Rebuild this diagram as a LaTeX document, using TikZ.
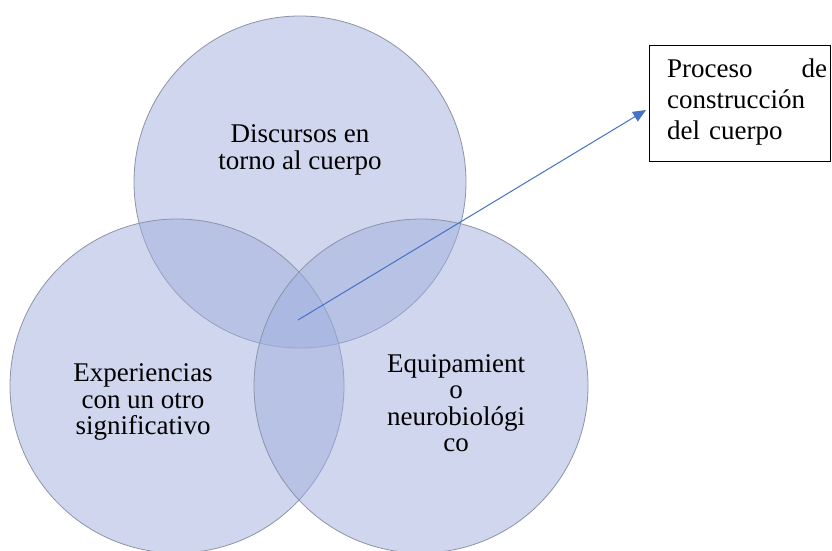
\documentclass[tikz,border=0pt]{standalone}
\usepackage{fontspec}
\setmainfont{Liberation Serif}
\usetikzlibrary{arrows.meta}
\definecolor{circfill}{RGB}{160,175,222}
\definecolor{circline}{RGB}{140,148,168}
\definecolor{arrowblue}{RGB}{68,114,196}
\tikzset{
  venn/.style={circle, draw=circline, line width=0.8pt, fill=circfill, fill opacity=0.5, minimum size=#1, inner sep=0pt},
  lbl/.style={align=center, font=\fontsize{27}{26.5}\selectfont, text=black},
  boxtext/.style={align=left, font=\fontsize{27}{31}\selectfont, text=black, text width=160pt, inner sep=0pt, anchor=north west},
  conn/.style={draw=arrowblue, line width=1pt, -{Triangle[length=13pt,width=11pt]}}
}
\begin{document}
\begin{tikzpicture}[x=1pt,y=-1pt]
\useasboundingbox (0,0) rectangle (832,550);
\fill[white] (0,0) rectangle (832,550);
\begin{scope}
\clip (0,0) rectangle (832,550);
\node[venn=332pt] (ctop) at (300,182) {};
\node[venn=334pt] (cleft) at (177,386) {};
\node[venn=334pt] (cright) at (421,386) {};
\end{scope}
\node[lbl] (ttop) at (300,150) {Discursos en\\torno al cuerpo};
\node[lbl] (tleft) at (143,402) {Experiencias\\con un otro\\significativo};
\node[lbl] (tright) at (456,403) {Equipamient\\o\\neurobiológi\\co};
\node[draw=black, line width=0.8pt, minimum width=181pt, minimum height=116pt, anchor=north west, inner sep=0pt] (box) at (649,45) {};
\node[boxtext] (boxt) at (667,59) {Proceso\hfill de\\construcción\\del cuerpo};
\coordinate (start) at (298,320);
\coordinate (tip) at (646,110);
\draw[conn] (start) -- (tip);
\end{tikzpicture}
\end{document}
